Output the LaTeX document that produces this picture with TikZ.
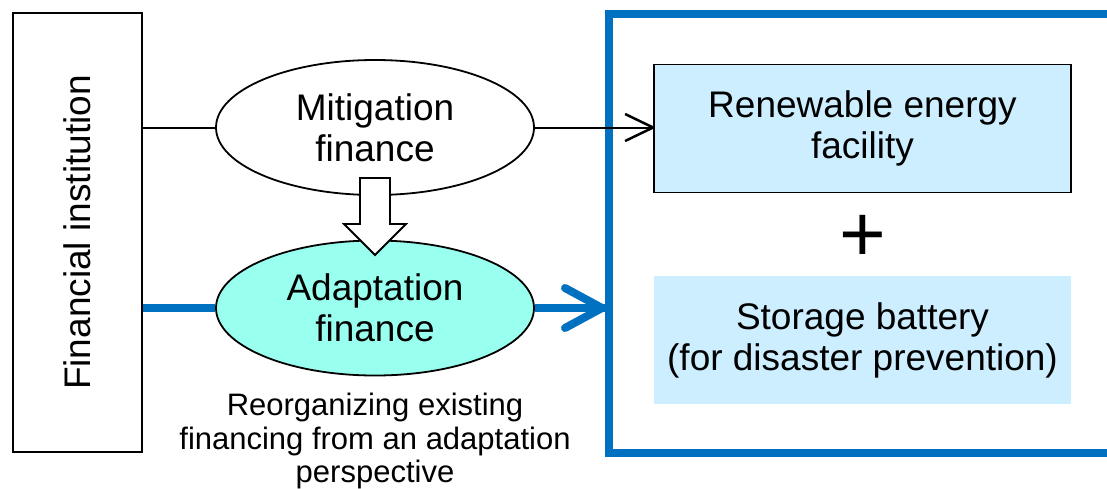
\documentclass[tikz,border=0pt]{standalone}
\usepackage{fontspec}
\setmainfont{Liberation Sans}
\usetikzlibrary{shapes.geometric,calc}
\definecolor{frameblue}{HTML}{0070C0}
\definecolor{adaptfill}{HTML}{99FFEE}
\definecolor{boxfill}{HTML}{CCEEFF}
\begin{document}
\begin{tikzpicture}[x=1pt,y=-1pt,
  bigtext/.style={font=\fontsize{37}{41}\selectfont, align=center},
  financeoval/.style={ellipse, draw, line width=1.8pt, minimum width=318pt,
    minimum height=135pt, inner sep=0pt, bigtext},
  facilitybox/.style={fill=boxfill, minimum width=417pt, minimum height=128pt,
    inner sep=0pt, bigtext},
  thinlink/.style={line width=2pt},
  bluelink/.style={frameblue, line width=8pt},
]
\useasboundingbox (0,0) rectangle (1107,488);
\clip (0,0) rectangle (1107,488);

% outer frame around the financed facilities (open to the right)
\draw[frameblue, line width=8pt] (1130,14) -- (609,14) -- (609,452.5) -- (1130,452.5);
\coordinate (frameedge) at (605,0);

% financial institution
\node[draw, line width=1.8pt, minimum width=129pt, minimum height=439pt, inner sep=0pt]
  (fi) at (77.5,232.5) {};
\node[rotate=90, bigtext] (fitext) at (fi) {Financial institution};

% facilities
\node[facilitybox, draw, line width=1.8pt] (ren) at (862.5,128.5) {Renewable energy\\facility};
\node[facilitybox] (sto) at (862.5,340) {Storage battery\\(for disaster prevention)};
\node[font=\fontsize{80}{80}\selectfont, inner sep=0pt] (plus) at (863,238) {+};

% finance types
\node[financeoval] (mit) at (375,127.5) {Mitigation\\finance};
\node[financeoval, fill=adaptfill] (ada) at (375,308) {Adaptation\\finance};

% connectors
\draw[thinlink] (fi.east |- mit.west) -- (mit.west);
\draw[thinlink] (mit.east) -- (ren.west |- mit.east);
\draw[line width=2.5pt, line join=round]
  ($(ren.west |- mit.east)+(-28,-13.5)$) -- (ren.west |- mit.east) -- ($(ren.west |- mit.east)+(-28,13.5)$);

\draw[bluelink] (fi.east |- ada.west) -- (ada.west);
\draw[bluelink] (ada.east) -- (ada -| frameedge);
\draw[bluelink, line cap=round, line join=round]
  ($(ada -| frameedge)+(-40,-20)$) -- ($(ada -| frameedge)+(-3,0)$) -- ($(ada -| frameedge)+(-40,20)$);

% hollow arrow from mitigation to adaptation finance
\draw[fill=white, line width=1.8pt, line join=miter]
  (360,178) -- (390,178) -- (390,224) -- (406,224) -- (375,255)
  -- (344,224) -- (360,224) -- cycle;

\node[font=\fontsize{31}{33.5}\selectfont, align=center] (note) at (375,441)
  {Reorganizing existing\\financing from an adaptation\\perspective};
\end{tikzpicture}
\end{document}
